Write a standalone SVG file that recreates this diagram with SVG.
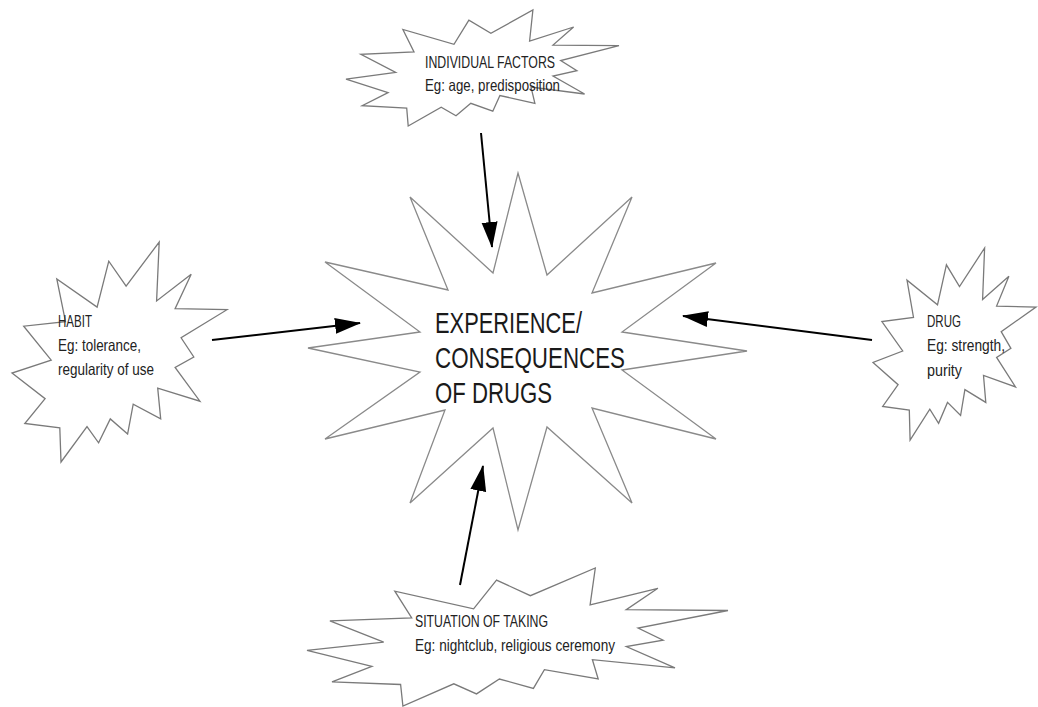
<svg xmlns="http://www.w3.org/2000/svg" width="1038" height="707" viewBox="0 0 1038 707">
<style>
.bg{fill:#ffffff}
.burst{fill:#ffffff;stroke:#7a7a7a;stroke-width:1.3;stroke-linejoin:miter}
.star{fill:#ffffff;stroke:#8a8a8a;stroke-width:1.3;stroke-linejoin:miter}
.lbl{font-family:"Liberation Sans",Arial,sans-serif;font-size:16.5px;fill:#222222}
.main{font-family:"Liberation Sans",Arial,sans-serif;font-size:30px;fill:#1a1a1a}
.conn{stroke:#000000;stroke-width:2;fill:none}
</style>
<defs>
<marker id="ah" markerWidth="26" markerHeight="18" refX="25" refY="9" orient="auto" markerUnits="userSpaceOnUse">
<path d="M0,1 L26,9 L0,17 Z" fill="#000000"/>
</marker>
</defs>
<rect class="bg" x="0" y="0" width="1038" height="707"/>

<g id="center">
<path class="star" d="M518,173 L547,275 L632,197 L592,293 L716,263 L622,332 L747,351 L622,370 L716,439 L592,408 L632,503 L547,427 L518,530 L493,428 L410,503 L445,410 L325,439 L420,372 L308,348 L420,332 L325,262 L448,290 L410,197 L493,273 Z"/>
<text class="main" x="435" y="333" textLength="147" lengthAdjust="spacingAndGlyphs">EXPERIENCE/</text>
<text class="main" x="435" y="368" textLength="190" lengthAdjust="spacingAndGlyphs">CONSEQUENCES</text>
<text class="main" x="435" y="403" textLength="117" lengthAdjust="spacingAndGlyphs">OF DRUGS</text>
</g>

<g id="individual">
<path class="burst" d="M468.9,20.1 L454.0,44.3 L402.9,29.5 L414.0,52.0 L360.9,54.4 L395.7,72.3 L346,79.1 L388.1,92.6 L362.2,105.7 L406.7,108.0 L408.2,126 L441.2,107.3 L456.0,115.8 L470.8,103.3 L492.8,111.2 L499.9,95.5 L534.9,103.3 L531.0,87.1 L584.6,94.0 L553.0,76.1 L576.9,70.6 L560.7,60.5 L619,45.7 L553.0,45.1 L573.6,27.0 L529.6,41.0 L532.9,10 L490.9,33.3 Z"/>
<text class="lbl" x="425" y="68" textLength="130" lengthAdjust="spacingAndGlyphs">INDIVIDUAL FACTORS</text>
<text class="lbl" x="425" y="91" textLength="135" lengthAdjust="spacingAndGlyphs">Eg: age, predisposition</text>
</g>

<g id="habit">
<path class="burst" d="M108.8,261.2 L97.1,307.1 L56.8,278.9 L65.5,321.6 L23.7,326.2 L51.2,360.1 L12,373.1 L45.1,398.7 L24.8,423.5 L59.8,427.8 L61.0,462 L87.0,426.6 L98.6,442.8 L110.3,418.9 L127.6,434.0 L133.2,404.2 L160.7,418.9 L157.7,388.1 L199.9,401.2 L175.1,367.4 L193.8,357.0 L181.1,337.8 L227,309.7 L175.1,308.6 L191.2,274.3 L156.6,300.9 L159.2,242 L126.1,286.2 Z"/>
<text class="lbl" x="58" y="327" textLength="34" lengthAdjust="spacingAndGlyphs">HABIT</text>
<text class="lbl" x="58" y="351" textLength="83" lengthAdjust="spacingAndGlyphs">Eg: tolerance,</text>
<text class="lbl" x="58" y="375" textLength="96" lengthAdjust="spacingAndGlyphs">regularity of use</text>
</g>

<g id="drug">
<path class="burst" d="M946.4,264.8 L937.5,304.8 L907.0,280.2 L913.5,317.5 L881.9,321.5 L902.7,351.0 L873,362.5 L898.1,384.7 L882.7,406.4 L909.3,410.1 L910.1,440 L929.8,409.1 L938.6,423.3 L947.5,402.4 L960.6,415.5 L964.9,389.6 L985.8,402.4 L983.5,375.5 L1015.5,386.9 L996.6,357.4 L1010.9,348.4 L1001.2,331.6 L1036,307.1 L996.6,306.1 L1008.9,276.2 L982.6,299.4 L984.6,248 L959.5,286.6 Z"/>
<text class="lbl" x="927" y="327" textLength="34" lengthAdjust="spacingAndGlyphs">DRUG</text>
<text class="lbl" x="927" y="351" textLength="78" lengthAdjust="spacingAndGlyphs">Eg: strength,</text>
<text class="lbl" x="927" y="376" textLength="35" lengthAdjust="spacingAndGlyphs">purity</text>
</g>

<g id="situation">
<path class="burst" d="M496.5,580.1 L473.6,608.8 L394.8,591.2 L411.7,617.9 L329.9,620.8 L383.7,642.1 L307,650.3 L371.9,666.3 L332.0,681.9 L400.6,684.5 L402.9,706 L453.8,683.8 L476.5,693.9 L499.4,679.0 L533.4,688.4 L544.4,669.7 L598.2,679.0 L592.4,659.7 L675.0,667.9 L626.3,646.6 L663.1,640.1 L638.1,628.1 L728,610.5 L626.3,609.7 L657.9,588.3 L590.1,604.9 L595.3,568 L530.4,595.7 Z"/>
<text class="lbl" x="415" y="627" textLength="133" lengthAdjust="spacingAndGlyphs">SITUATION OF TAKING</text>
<text class="lbl" x="415" y="651" textLength="200" lengthAdjust="spacingAndGlyphs">Eg: nightclub, religious ceremony</text>
</g>

<g id="connectors">
<line class="conn" x1="481" y1="133" x2="492" y2="247" marker-end="url(#ah)"/>
<line class="conn" x1="212" y1="340" x2="360" y2="323" marker-end="url(#ah)"/>
<line class="conn" x1="872" y1="340" x2="683" y2="316" marker-end="url(#ah)"/>
<line class="conn" x1="460" y1="585" x2="483" y2="466" marker-end="url(#ah)"/>
</g>
</svg>
